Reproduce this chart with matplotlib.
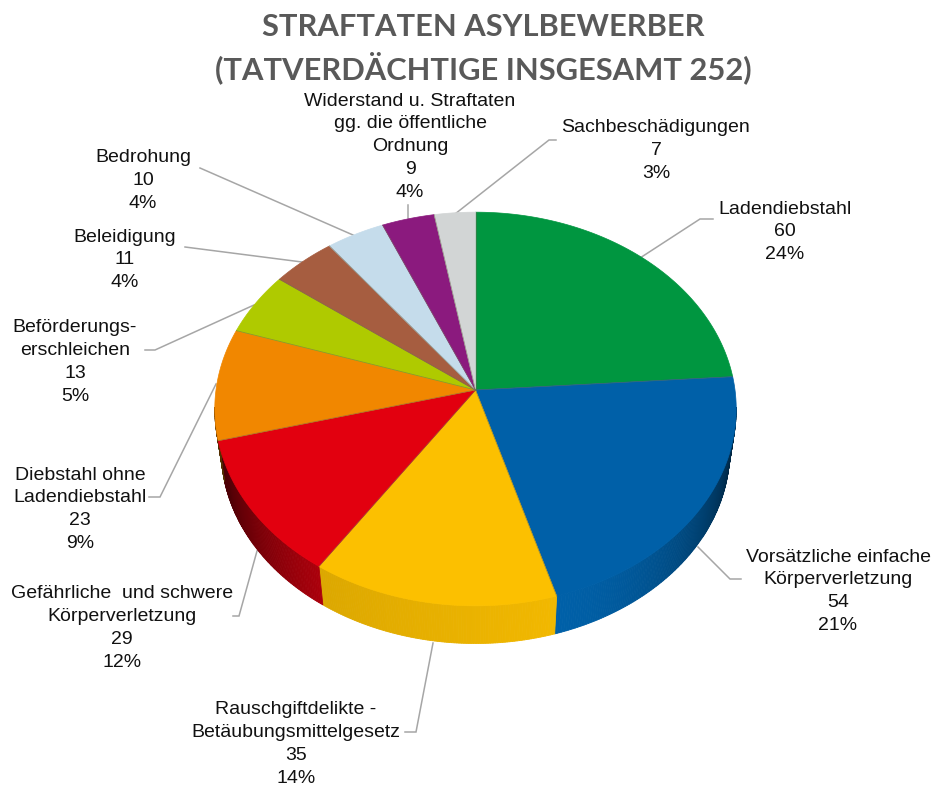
import numpy as np
import matplotlib
matplotlib.use("Agg")
import matplotlib.pyplot as plt
import matplotlib.colors as mcolors

# ===== data =====
title_lines = ["STRAFTATEN ASYLBEWERBER", "(TATVERDÄCHTIGE INSGESAMT 252)"]
categories = [
    "Ladendiebstahl",
    "Vorsätzliche einfache\nKörperverletzung",
    "Rauschgiftdelikte -\nBetäubungsmittelgesetz",
    "Gefährliche  und schwere\nKörperverletzung",
    "Diebstahl ohne\nLadendiebstahl",
    "Beförderungs-\nerschleichen",
    "Beleidigung",
    "Bedrohung",
    "Widerstand u. Straftaten\ngg. die öffentliche\nOrdnung",
    "Sachbeschädigungen",
]
values = [60, 54, 35, 29, 23, 13, 11, 10, 9, 7]
percents = [24, 21, 14, 12, 9, 5, 4, 4, 4, 3]
colors = ["#009640", "#0060A8", "#FCC000", "#E2000F", "#F18700",
          "#AFCA00", "#A65D40", "#C5DCEB", "#8B1A7E", "#D2D5D5"]

# label centre x, first line y
label_pos = [(785, 209), (838, 557), (296, 710), (122, 594), (80, 475),
             (75, 328), (125, 237), (143, 158), (410, 101), (656, 128)]
# leader lines
leaders = [
    [(640, 258), (700, 219), (713, 219)],
    [(698, 547), (730, 579), (741, 579)],
    [(433, 643), (416, 732), (405, 732)],
    [(257, 551), (239, 616), (233, 616)],
    [(216, 384), (160, 497), (149, 497)],
    [(254, 305), (155, 350), (145, 350)],
    [(302, 262), (185, 247)],
    [(353, 235), (200, 168)],
    [(408, 218), (408, 205)],
    [(455, 214), (549, 140), (556, 140)],
]

plt.rcParams["font.family"] = ["Liberation Sans", "DejaVu Sans"]

fig = plt.figure(figsize=(9.31, 7.9), dpi=100)
ax = fig.add_axes([0, 0, 1, 1])
ax.set_xlim(0, 931)
ax.set_ylim(790, 0)
ax.axis("off")

cx, cy = 475.5, 390


# circle -> tilted pie surface, clock angle in degrees
def top_rim(clock):
    t = np.radians(clock)
    x, y = np.sin(t), np.cos(t)
    d = 1 + 0.0965 * y
    return cx + 259.5 * x / d, cy - 195 * y / d


def bottom_rim(clock):
    x, y = top_rim(clock)
    return cx + (x - cx) * 0.975, cy + (y - cy) * 0.98 + 42


def side_shade(clock, i):
    # darker towards the left and right ends of the visible side
    if i == 1:
        return 1 - 0.62 * np.clip((163 - clock) / 60, 0, 1) ** 1.5
    if i == 2:
        return 0.96 - 0.06 * (clock - 163) / 35
    return 0.86 - 0.52 * np.clip((clock - 205) / 45, 0, 1)


edges = np.concatenate([[0], np.cumsum(values)]) / np.sum(values) * 360

# side wall
for i in range(len(values)):
    a1, a2 = max(edges[i], 95), min(edges[i + 1], 265)
    if a1 >= a2:
        continue
    steps = np.linspace(a1, a2, int(a2 - a1) * 2 + 2)
    for s1, s2 in zip(steps[:-1], steps[1:]):
        tx, ty = top_rim(np.array([s1, s2]))
        bx, by = bottom_rim(np.array([s2, s1]))
        rgb = np.array(mcolors.to_rgb(colors[i])) * side_shade((s1 + s2) / 2, i)
        ax.fill(np.r_[tx, bx], np.r_[ty, by], color=rgb, lw=0.6, zorder=2)

# top surface
for i in range(len(values)):
    t = np.linspace(edges[i], edges[i + 1], 120)
    x, y = top_rim(t)
    ax.fill(np.r_[cx, x], np.r_[cy, y], facecolor=colors[i],
            edgecolor=colors[i], lw=0.5, zorder=3)
    ax.plot([cx, x[0]], [cy, y[0]], color="#6b6b50", lw=0.5, alpha=0.6, zorder=4)

# leader lines
for pts in leaders:
    px, py = zip(*pts)
    ax.plot(px, py, color="#a6a6a6", lw=1.1, zorder=1, solid_joinstyle="miter")

# labels
line_h = 22.8
for name, v, p, (lx, ly) in zip(categories, values, percents, label_pos):
    for k, line in enumerate(name.split("\n") + [str(v), f"{p}%"]):
        ax.text(lx, ly + k * line_h, line, ha="center", va="center",
                fontsize=14, color="#111111", zorder=5)

# title
for k, line in enumerate(title_lines):
    ax.text(483, 27 + k * 41, line, ha="center", va="center", fontsize=22.2,
            fontweight="bold", family=["Lato", "DejaVu Sans"], color="#595959")

fig.savefig("out.png", dpi=100)
plt.close()
